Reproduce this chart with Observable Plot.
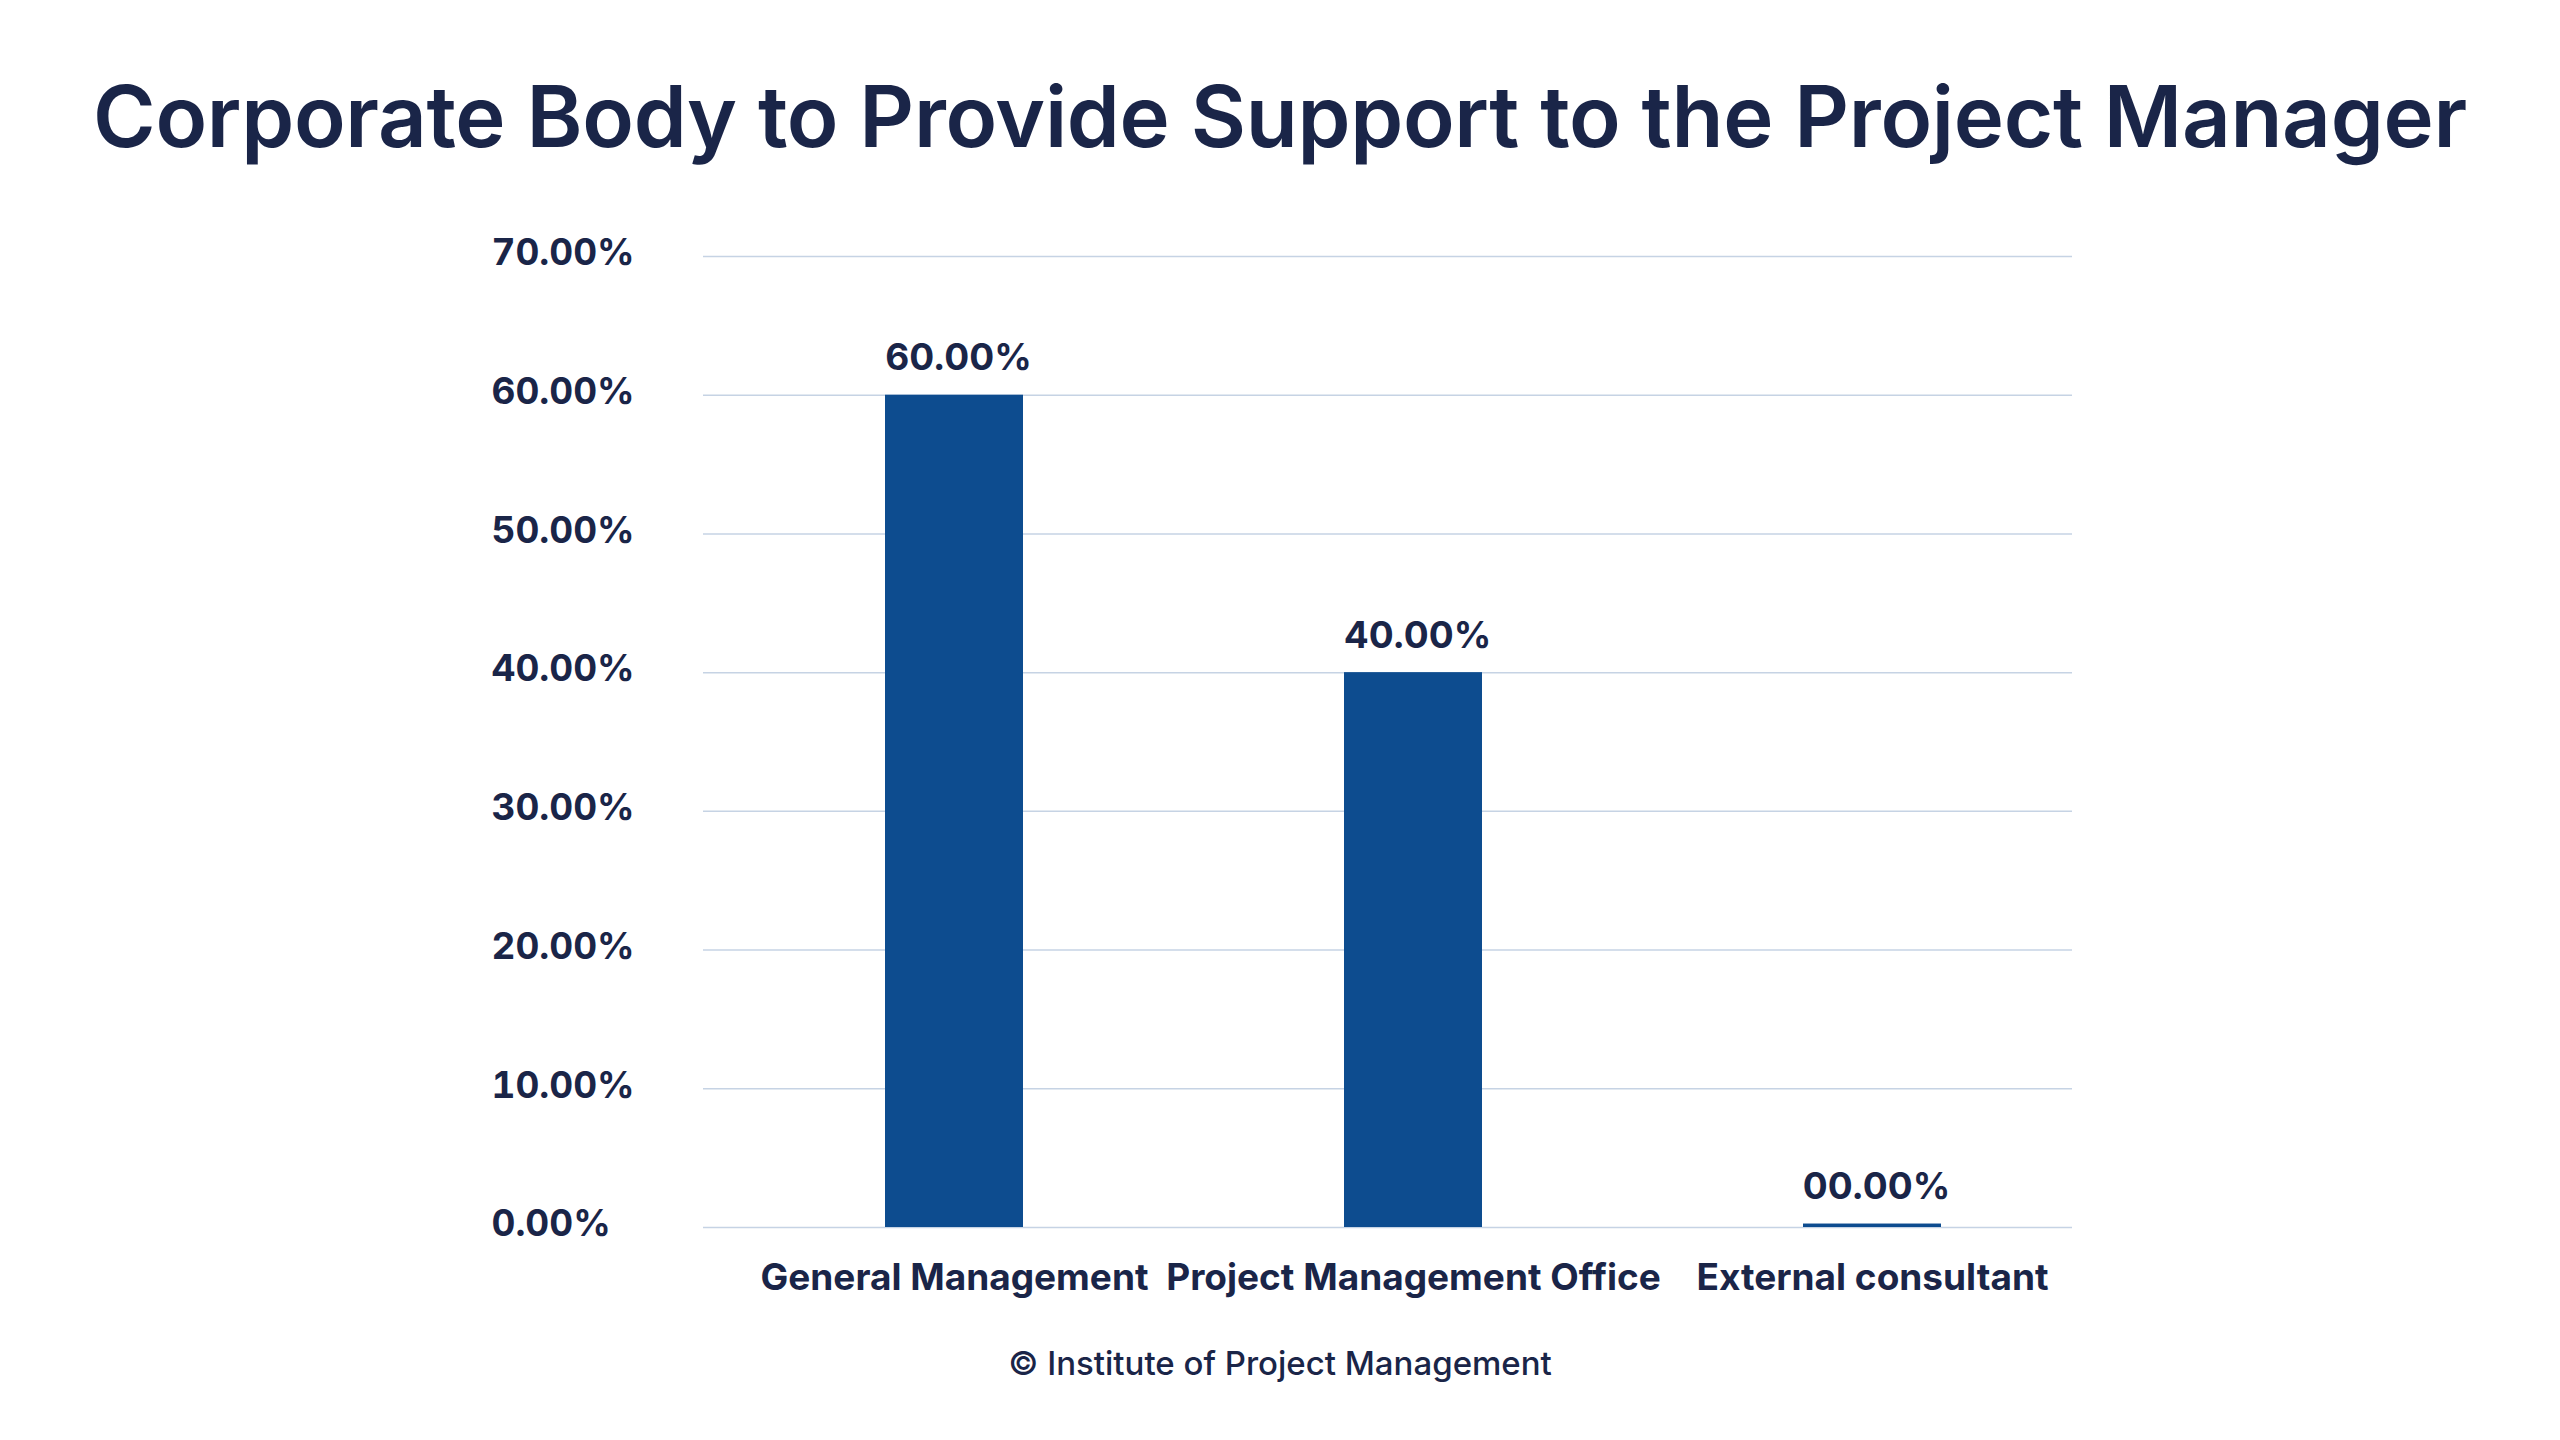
<!DOCTYPE html>
<html>
<head>
<meta charset="utf-8">
<script src="https://cdn.jsdelivr.net/npm/d3@7"></script>
<script src="https://cdn.jsdelivr.net/npm/@observablehq/plot@0.6"></script>
<style>
  html, body { margin: 0; padding: 0; background: #ffffff; }
  body { width: 2560px; height: 1440px; overflow: hidden; font-family: Inter, "Noto Sans", sans-serif; color: #1a2548; }
  #title { height: 200px; box-sizing: border-box; padding-top: 74px; text-align: center; font-size: 85px; font-weight: 600; line-height: 1; letter-spacing: -0.3px; white-space: nowrap; }
  #chart svg { display: block; }
  #caption { text-align: center; font-size: 33px; font-weight: 500; line-height: 1; padding-top: 37px; }
</style>
</head>
<body>
<div id="title">Corporate Body to Provide Support to the Project Manager</div>
<div id="chart"></div>
<div id="caption">© Institute of Project Management</div>
<script>
const categories = ["General Management", "Project Management Office", "External consultant"];
const values = [0.60, 0.40, 0.0025];
const valueLabels = ["60.00%", "40.00%", "00.00%"];
const yTicks = [0, 0.1, 0.2, 0.3, 0.4, 0.5, 0.6, 0.7];

const data = categories.map((c, i) => ({category: c, value: values[i], label: valueLabels[i]}));

const ink = "#1a2548";
const chart = Plot.plot({
  width: 2560,
  height: 1110,
  marginTop: 56,
  marginBottom: 83,
  marginLeft: 703,
  marginRight: 488,
  style: {fontFamily: "Inter, 'Noto Sans', sans-serif", color: ink, background: "#ffffff"},
  x: {domain: categories, paddingInner: 0.7, paddingOuter: 0.34, align: 0.58, label: null},
  y: {domain: [0, 0.7], label: null},
  marks: [
    Plot.gridY(yTicks, {stroke: "#c6d3e4", strokeOpacity: 1, strokeWidth: 1.5}),
    Plot.barY(data, {x: "category", y: "value", fill: "#0d4c8f"}),
    Plot.text(data, {x: "category", y: "value", text: "label", lineAnchor: "bottom", dy: -25, dx: 4,
      fontSize: 37, fontWeight: 700, fill: ink}),
    Plot.axisY(yTicks, {tickSize: 0, tickPadding: 212, textAnchor: "start", tickFormat: d3.format(".2%"),
      fontSize: 37, fontWeight: 700, fill: ink, dy: -3, label: null}),
    Plot.axisX({tickSize: 0, tickPadding: 36, fontSize: 37, fontWeight: 700, fill: ink, label: null})
  ]
});
document.getElementById("chart").appendChild(chart);
</script>
</body>
</html>
